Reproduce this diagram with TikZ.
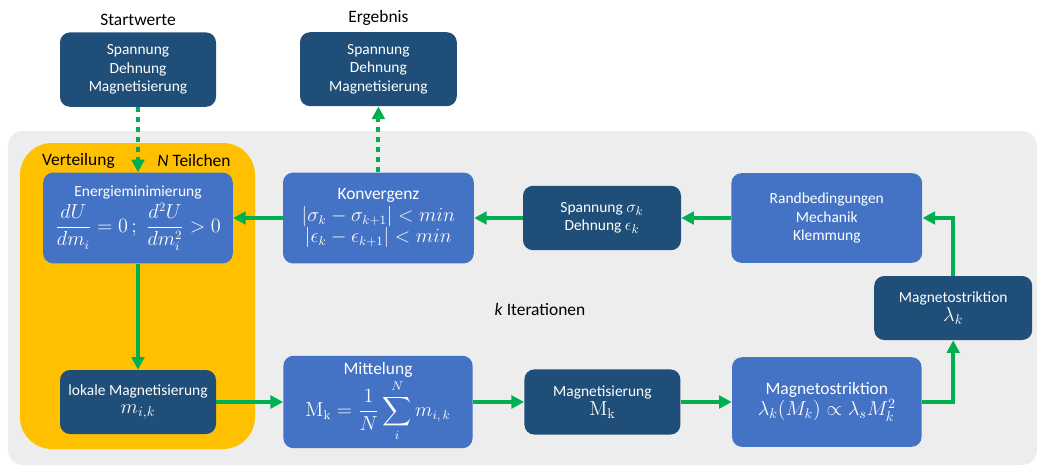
\documentclass[tikz,border=0pt]{standalone}
\usepackage{amsmath}
\usepackage[no-math]{fontspec}
\setmainfont{Carlito}
\usetikzlibrary{arrows.meta}

\definecolor{darkblue}{HTML}{1F4E79}
\definecolor{midblue}{HTML}{4472C4}
\definecolor{gold}{HTML}{FFC000}
\definecolor{bggray}{HTML}{EDEDED}
\definecolor{flowgreen}{HTML}{00B050}

\tikzset{
	darkbox/.style={rounded corners=2.5mm, fill=darkblue, text=white, align=center, inner sep=0pt, font=\fontsize{11}{13.3}\selectfont},
	lightbox/.style={rounded corners=2.5mm, fill=midblue, text=white, align=center, inner sep=0pt, font=\fontsize{12.4}{15}\selectfont},
	label/.style={font=\fontsize{12.4}{15}\selectfont},
	flow/.style={draw=flowgreen, line width=2.8pt, -{Triangle[length=9pt,width=9pt]}},
	dotflow/.style={flow, dash pattern=on 3.6pt off 3.5pt},
}

\begin{document}
\begin{tikzpicture}
	\useasboundingbox (0,0) rectangle (25.95,11.65);

	% Hintergrund und Teilchen-Bereich
	\fill[bggray, rounded corners=3.75mm] (0.2,0.025) rectangle (25.925,8.375);
	\fill[gold, rounded corners=8mm] (0.5,0.425) rectangle (6.375,8.075);

	\node[label] (startlabel) at (3.45,11.15) {Startwerte};
	\node[label] (reslabel) at (9.46,11.2) {Ergebnis};
	\node[label] (distlabel) at (1.96,7.63) {Verteilung};
	\node[label] (partlabel) at (4.85,7.63) {\textit{N} Teilchen};
	\node[label] (iterlabel) at (13.5,3.9) {\textit{k} Iterationen};

	\node[darkbox, minimum width=3.9cm, minimum height=1.86cm] (start) at (3.45,9.91) {Spannung\\Dehnung\\Magnetisierung};
	\node[darkbox, minimum width=3.92cm, minimum height=1.85cm] (result) at (9.46,9.92) {Spannung\\Dehnung\\Magnetisierung};

	\node[lightbox, minimum width=4.74cm, minimum height=2.27cm] (energy) at (3.45,6.2) {{\fontsize{11}{13}\selectfont Energieminimierung}\\[2pt]
		{\fontsize{13.5}{16}\selectfont$\dfrac{dU}{dm_i}=0\,;\;\dfrac{d^2U}{dm_i^2}>0$}};
	\node[lightbox, minimum width=4.77cm, minimum height=2.27cm] (conv) at (9.46,6.2) {Konvergenz\\
		{\fontsize{13.5}{15}\selectfont$|\sigma_k-\sigma_{k+1}|<min$}\\{\fontsize{13.5}{15}\selectfont$|\epsilon_k-\epsilon_{k+1}|<min$}};
	\node[darkbox, minimum width=3.95cm, minimum height=1.61cm] (stress) at (15.05,6.2) {Spannung {\fontsize{13}{13}\selectfont$\sigma_k$}\\Dehnung {\fontsize{13}{13}\selectfont$\epsilon_k$}};
	\node[lightbox, font=\fontsize{11}{13.3}\selectfont, minimum width=4.77cm, minimum height=2.24cm] (bound) at (20.67,6.2) {Randbedingungen\\Mechanik\\Klemmung};
	\node[darkbox, minimum width=3.95cm, minimum height=1.6cm] (lambda) at (23.83,3.95) {Magnetostriktion\\{\fontsize{14}{15}\selectfont$\lambda_k$}};

	\node[darkbox, minimum width=3.9cm, minimum height=1.6cm] (local) at (3.45,1.6) {lokale Magnetisierung\\{\fontsize{14}{17}\selectfont$m_{i,k}$}};
	\node[lightbox, minimum width=4.73cm, minimum height=2.31cm] (mean) at (9.45,1.6) {Mittelung\\[1pt]
		{\fontsize{13.5}{16}\selectfont$\mathrm{M_k}=\dfrac{1}{N}\displaystyle\sum_{i}^{N}m_{i,\,k}$}};
	\node[darkbox, minimum width=3.9cm, minimum height=1.63cm] (magn) at (15.06,1.6) {Magnetisierung\\{\fontsize{14}{16}\selectfont$\mathrm{M_k}$}};
	\node[lightbox, minimum width=4.74cm, minimum height=2.24cm] (mstrict) at (20.67,1.6) {Magnetostriktion\\
		{\fontsize{14}{17}\selectfont$\lambda_k(M_k)\propto\lambda_s M_k^2$}};

	% Verbindungen
	\draw[dotflow] (start) -- (energy);
	\draw[dotflow] (conv) -- (result);
	\draw[flow] (conv) -- (energy);
	\draw[flow] (stress) -- (conv);
	\draw[flow] (bound) -- (stress);
	\draw[flow] (lambda.north) |- (bound.east);
	\draw[flow] (mstrict.east) -| (lambda.south);
	\draw[flow] (energy) -- (local);
	\draw[flow] (local) -- (mean);
	\draw[flow] (mean) -- (magn);
	\draw[flow] (magn) -- (mstrict);
\end{tikzpicture}
\end{document}
